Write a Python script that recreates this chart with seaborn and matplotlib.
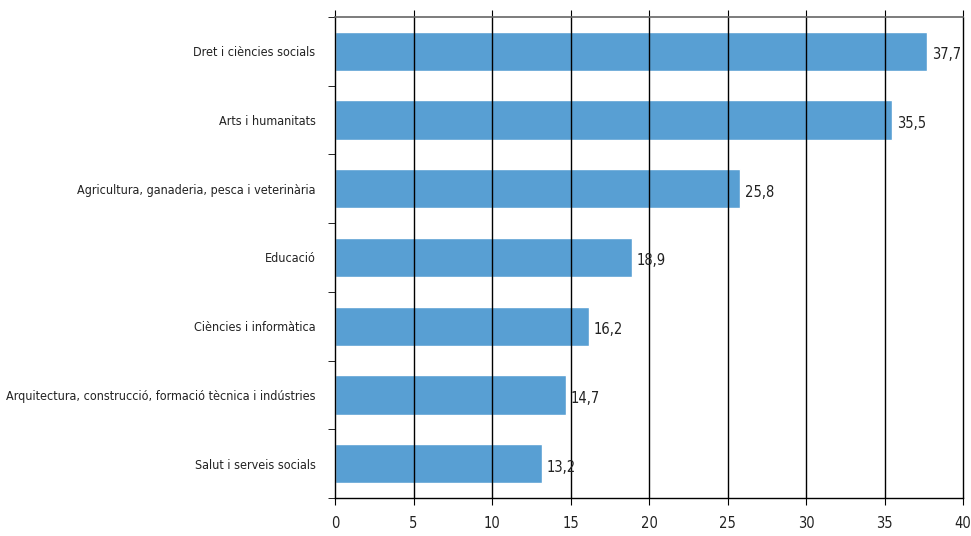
import matplotlib
matplotlib.use('Agg')
import matplotlib.pyplot as plt
import seaborn as sns
import numpy as np
import pandas as pd
from matplotlib.ticker import FixedLocator

categories = [
    "Dret i ciències socials",
    "Arts i humanitats",
    "Agricultura, ganaderia, pesca i veterinària",
    "Educació",
    "Ciències i informàtica",
    "Arquitectura, construcció, formació tècnica i indústries",
    "Salut i serveis socials",
]
values = [37.7, 35.5, 25.8, 18.9, 16.2, 14.7, 13.2]
x_ticks = [0, 5, 10, 15, 20, 25, 30, 35, 40]

sns.set_style("white")
plt.rcParams['font.family'] = ['DejaVu Sans']
plt.rcParams['font.stretch'] = 'condensed'

df = pd.DataFrame({"cat": categories, "val": values})

fig = plt.figure(figsize=(9.71, 5.36), dpi=100)
ax = fig.add_axes([335 / 971, 38 / 536, 628 / 971, 481 / 536])

sns.barplot(data=df, x="val", y="cat", color="#589fd3", width=0.57,
            saturation=1, ax=ax, zorder=1)

ax.set_xlim(0, 40)
ax.set_ylim(len(categories) - 0.5, -0.5)
ax.set_xticks(x_ticks)
ax.set_xticklabels([str(t) for t in x_ticks], fontsize=10.5, color="#222222")
ax.tick_params(axis="y", labelsize=9, labelcolor="#222222", length=0, pad=14)
ax.yaxis.set_minor_locator(FixedLocator(np.arange(-0.5, len(categories), 1)))
ax.tick_params(axis="y", which="minor", length=5, color="black", direction="out", left=True)
ax.tick_params(axis="x", length=5, color="black", direction="out", bottom=True, top=True, pad=8)
ax.set_xlabel("")
ax.set_ylabel("")

for t in x_ticks[1:]:
    ax.axvline(t, color="black", lw=1, zorder=2, clip_on=False)

for s in ["left", "bottom"]:
    ax.spines[s].set_visible(True)
    ax.spines[s].set_color("black")
    ax.spines[s].set_linewidth(1)
ax.spines["top"].set_color("#666666")
ax.spines["top"].set_linewidth(1.2)
ax.spines["right"].set_visible(False)

for i, v in enumerate(values):
    ax.text(v + 0.3, i + 0.05, f"{v:.1f}".replace(".", ","), va="center", ha="left",
            fontsize=10.5, color="#222222", zorder=3)

fig.savefig("out.png", dpi=100)
